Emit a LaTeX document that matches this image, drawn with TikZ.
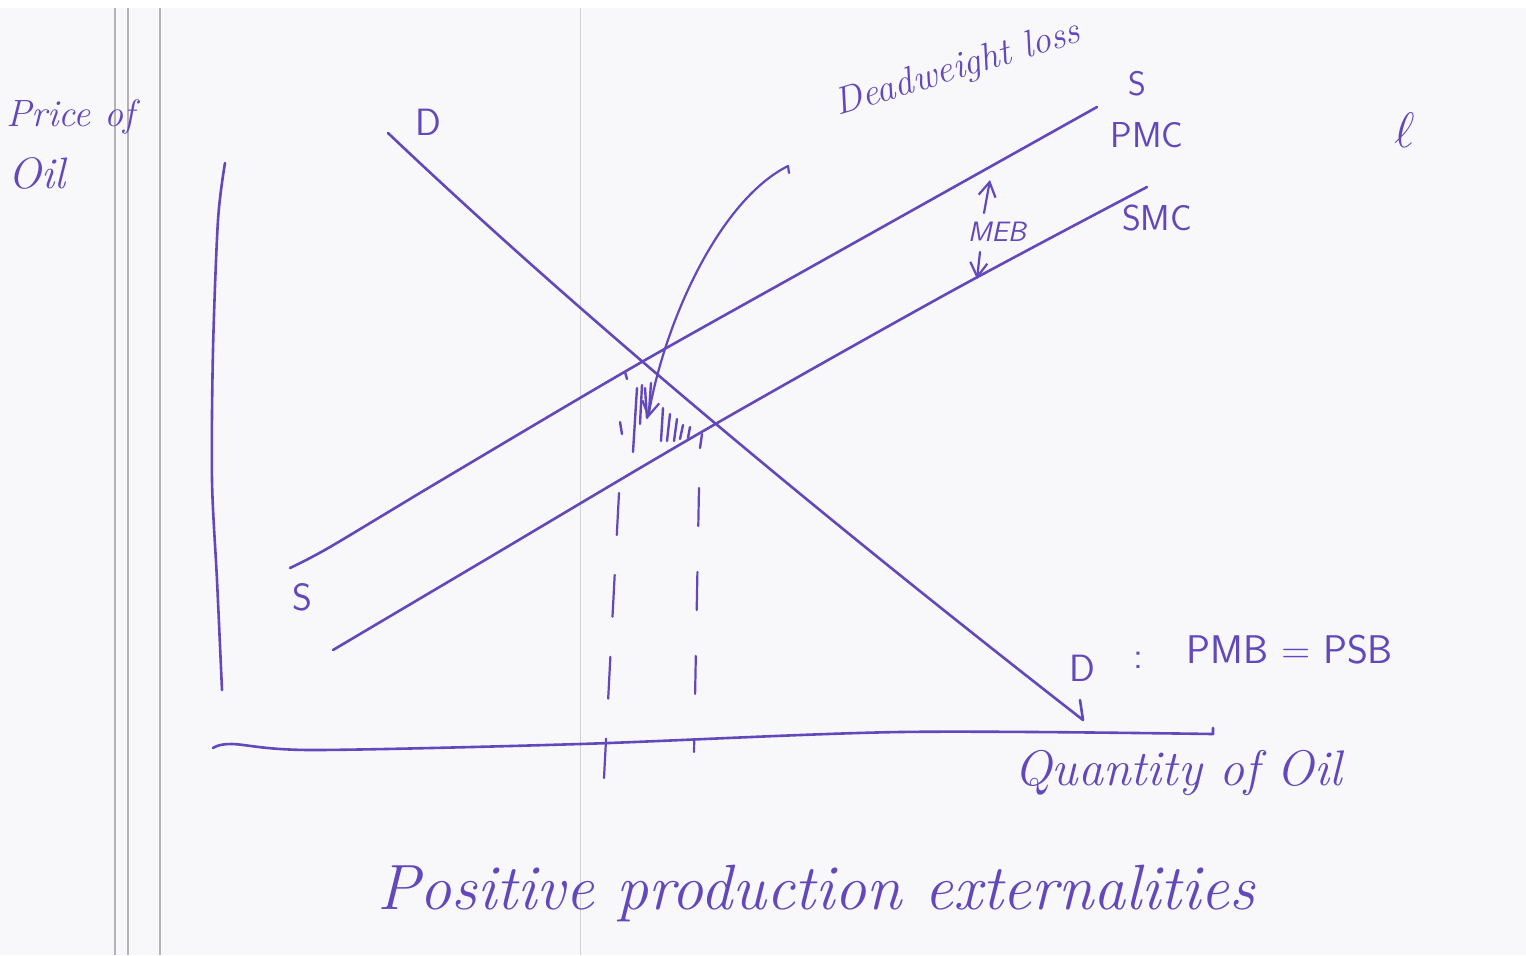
\documentclass[tikz,border=0pt]{standalone}
\usepackage{xcolor}
\usepackage{tikz}
\usetikzlibrary{arrows.meta}
\definecolor{ink}{RGB}{98,72,186}
\definecolor{paper}{RGB}{248,248,250}
\definecolor{rule}{RGB}{178,178,184}

\begin{document}
\begin{tikzpicture}[
  x=0.5pt, y=-0.5pt,
  curve/.style={draw=ink, line width=1.3pt, line cap=round, line join=round},
  hatch/.style={draw=ink, line width=1.2pt, line cap=round},
  guide/.style={curve, line width=1.1pt, dash pattern=on 21pt off 20pt},
  arr/.style={curve, line width=1.1pt, -{Straight Barb[length=2.5mm, width=3mm]}},
  hand/.style={text=ink, font=\itshape\fontsize{24}{28}\selectfont, inner sep=0pt},
  caps/.style={text=ink, font=\sffamily\fontsize{17}{20}\selectfont, inner sep=0pt},
  margin/.style={draw=rule, line width=0.8pt}
]
\useasboundingbox (0,0) rectangle (1526,955);
\fill[paper] (0,8) rectangle (1526,955);

% paper margins
\draw[margin] (115,8) -- (115,955);
\draw[margin] (128,8) -- (128,955);
\draw[margin] (160,8) -- (160,955);
\draw[margin, draw=rule!60, line width=0.5pt] (580,8) -- (580,955);

% axes
\draw[curve] plot[smooth] coordinates {(225,163) (218,220) (213,350) (212,480) (217,580) (222,690)};
\draw[curve] plot[smooth] coordinates {(213,748) (232,744) (313,750) (580,744) (900,732) (1213,734)} -- (1213,728);

% demand and cost curves
\coordinate (d-top) at (388,133);
\coordinate (d-end) at (1083,720);
\draw[curve] (d-top) .. controls (588,323) and (833,525) .. (d-end) -- (1080,700);
\draw[curve] plot[smooth] coordinates {(290,568) (330,547) (440,481) (633,367) (820,262) (1097,107)};
\draw[curve] plot[smooth] coordinates {(333,650) (480,563) (705,430) (950,292) (1147,187)};

% dashed guides down to the quantity axis
\coordinate (q1-top) at (619,493);
\coordinate (q1-end) at (604,778);
\coordinate (q2-top) at (699,488);
\coordinate (q2-end) at (694,752);
\draw[guide] (q1-top) -- (q1-end);
\draw[guide, dash pattern=on 19pt off 23pt] (q2-top) -- (q2-end);

% shaded triangle
\foreach \xa/\ya/\xb/\yb in {625/372/627/379, 637/388/633/452, 642/385/640/424, 645/388/647/418,
  651/383/649/412, 620/422/622/434, 663/408/661/441, 670/414/667/441, 677/419/674/441,
  683/425/680/439, 690/427/688/438, 702/434/700/448}
  \draw[hatch] (\xa,\ya) -- (\xb,\yb);

% arrow to the triangle
\coordinate (note) at (788,166);
\coordinate (tri) at (648,418);
\draw[arr] (789,173) -- (note) .. controls (720,200) and (665,320) .. (tri);

% MEB gap
\coordinate (meb-a) at (984,213);
\coordinate (meb-b) at (990,180);
\coordinate (meb-c) at (980,252);
\coordinate (meb-d) at (977,279);
\draw[arr] (meb-a) -- (meb-b);
\draw[arr] (meb-c) -- (meb-d);

% labels
\node[hand, font=\itshape\fontsize{19}{22}\selectfont, anchor=base west] (price) at (6,126) {Price of};
\node[hand, font=\itshape\fontsize{22}{26}\selectfont, anchor=base west] (oil) at (8,188) {Oil};
\node[caps, font=\sffamily\fontsize{19}{22}\selectfont] (d-lab) at (428,122) {D};
\node[caps, font=\sffamily\fontsize{19}{22}\selectfont] (s-low) at (302,597) {S};
\node[caps] (s-top) at (1137,84) {S};
\node[caps, font=\sffamily\fontsize{18}{21}\selectfont] (pmc) at (1147,135) {PMC};
\node[caps, font=\sffamily\fontsize{18}{21}\selectfont] (smc) at (1157,218) {SMC};
\node[caps, font=\sffamily\itshape\fontsize{14}{16}\selectfont] (meb) at (997,232) {MEB};
\node[caps, font=\sffamily\fontsize{19}{22}\selectfont] (d-low) at (1082,668) {D};
\node[caps, font=\sffamily\fontsize{19}{22}\selectfont] (colon) at (1138,660) {:};
\node[caps, font=\sffamily\fontsize{20}{24}\selectfont] (pmb) at (1290,650) {PMB = PSB};
\node[hand, font=\itshape\fontsize{19}{22}\selectfont, rotate=17, anchor=base west] (dwl) at (838,116) {Deadweight loss};
\node[hand, font=\fontsize{30}{32}\selectfont] (ell) at (1405,130) {$\ell$};
\node[hand, font=\itshape\fontsize{25}{29}\selectfont] (qlab) at (1178,773) {Quantity of Oil};
\node[hand, font=\itshape\fontsize{32}{36}\selectfont] (title) at (816,893) {Positive production externalities};
\end{tikzpicture}
\end{document}
